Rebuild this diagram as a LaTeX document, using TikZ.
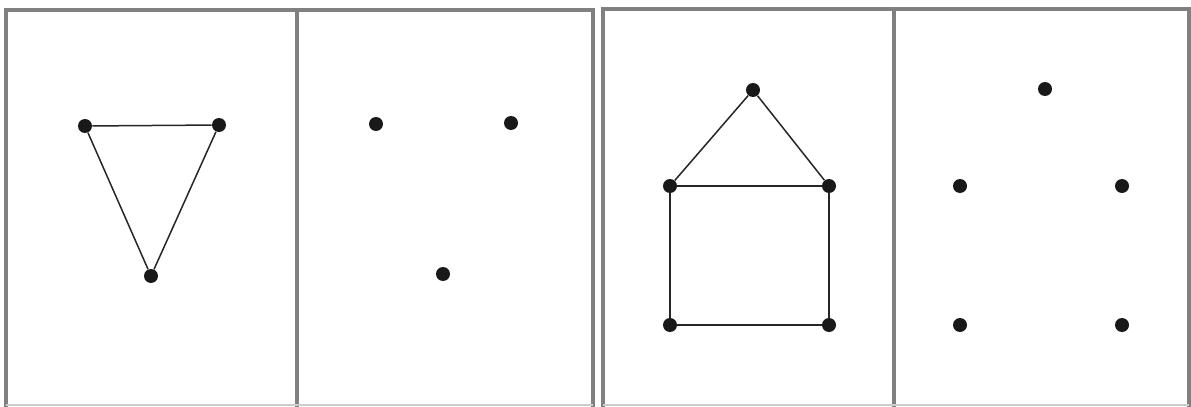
\documentclass[tikz,border=0pt]{standalone}
\begin{document}
\begin{tikzpicture}[x=0.5pt,y=-0.5pt,
  frame/.style={draw=black!50,line width=1.6pt},
  dot/.style={circle,fill=black!90,inner sep=0pt,minimum size=7pt},
  edge/.style={draw=black!85,line width=0.75pt}]
\useasboundingbox (0,0) rectangle (1191,407);
\fill[white] (0,0) rectangle (1191,407);
% frames
\draw[frame] (6,408) -- (6,10) -- (593,10) -- (593,408);
\draw[frame] (297,10) -- (297,408);
\draw[frame] (603,408) -- (603,9) -- (1189,9) -- (1189,408);
\draw[frame] (894,9) -- (894,408);
\draw[draw=black!20,line width=0.6pt] (6,405) -- (593,405);
\draw[draw=black!20,line width=0.6pt] (603,405) -- (1189,405);
% panel 1: triangle
\node[dot] (a1) at (85,126) {};
\node[dot] (a2) at (219,125) {};
\node[dot] (a3) at (151,276) {};
\draw[edge] (a1) -- (a2) -- (a3) -- (a1);
% panel 2: dots
\node[dot] (b1) at (376,124) {};
\node[dot] (b2) at (511,123) {};
\node[dot] (b3) at (443,274) {};
% panel 3: house
\node[dot] (h0) at (753,90) {};
\node[dot] (h1) at (670,186) {};
\node[dot] (h2) at (829,186) {};
\node[dot] (h3) at (670,325) {};
\node[dot] (h4) at (829,325) {};
\draw[edge] (h1) -- (h0) -- (h2);
\draw[edge] (h1) -- (h2) -- (h4) -- (h3) -- (h1);
% panel 4: dots
\node[dot] (d0) at (1045,89) {};
\node[dot] (d1) at (960,186) {};
\node[dot] (d2) at (1122,186) {};
\node[dot] (d3) at (960,325) {};
\node[dot] (d4) at (1122,325) {};
\end{tikzpicture}
\end{document}
